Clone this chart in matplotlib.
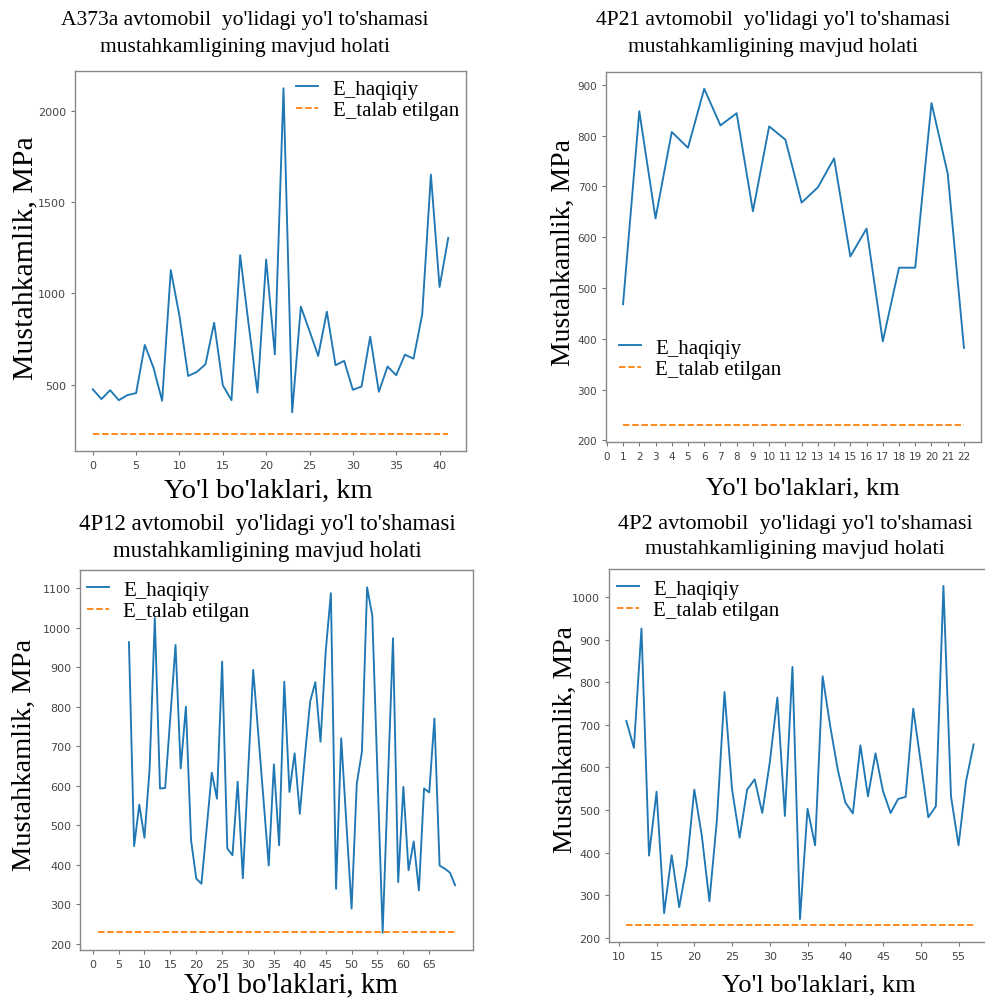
import matplotlib
matplotlib.use('Agg')
import matplotlib.pyplot as plt
from matplotlib.ticker import FixedLocator, MultipleLocator

# required modulus (same for every road)
E_TALAB = 230

# A373a road, km 0..41
km_a373a = list(range(0, 42))
e_a373a = [474, 420, 469, 414, 442, 453, 717, 593, 411, 1128, 876, 547, 569, 611,
           839, 496, 414, 1210, 821, 456, 1186, 666, 2126, 347, 927, 794, 657, 900,
           606, 630, 471, 489, 763, 460, 599, 551, 664, 642, 885, 1652, 1035, 1305]
ticks_a373a = list(range(0, 41, 5))

# 4P21 road, km 1..22
km_4p21 = list(range(1, 23))
e_4p21 = [468, 848, 637, 807, 776, 892, 820, 844, 651, 818, 792, 668, 698, 755,
          562, 617, 395, 540, 540, 864, 725, 382]
ticks_4p21 = list(range(0, 23))

# 4P12 road, measured km 7..70, required line drawn from km 1
km_4p12_req = list(range(1, 71))
km_4p12 = list(range(7, 71))
e_4p12 = [963, 447, 552, 468, 644, 1024, 593, 594, 775, 956, 644, 800, 462, 365,
          352, 490, 633, 567, 914, 441, 424, 610, 366, 630, 893, 728, 563, 398,
          654, 449, 863, 584, 682, 529, 677, 813, 862, 711, 939, 1087, 339, 720,
          504, 289, 605, 686, 1102, 1030, 630, 228, 603, 973, 356, 597, 386, 459,
          335, 593, 583, 770, 398, 390, 380, 348]
ticks_4p12 = list(range(0, 70, 5))

# 4P2 road, km 11..57
km_4p2 = list(range(11, 58))
e_4p2 = [709, 646, 926, 393, 543, 258, 394, 272, 370, 548, 439, 286, 478, 777,
         548, 435, 548, 572, 493, 612, 764, 486, 836, 244, 503, 417, 814, 697,
         595, 518, 492, 652, 532, 633, 544, 493, 526, 531, 738, 611, 483, 509,
         1026, 532, 417, 568, 654]
ticks_4p2 = list(range(10, 60, 5))

W, H = 985, 1003
SERIF = 'Liberation Serif'

fig = plt.figure(figsize=(W / 100, H / 100), dpi=100)


def box(x0, x1, y0, y1):
    # pixel box (top-down) -> figure fraction
    return [x0 / W, 1 - y1 / H, (x1 - x0) / W, (y1 - y0) / H]


def fxy(x, y):
    return x / W, 1 - y / H


def panel(rect, km, e, km_req, name, xticks, ystep, tick_size, lay):
    ax = fig.add_axes(rect)
    ax.plot(km, e, color='#1f77b4', lw=1.35, label='E_haqiqiy')
    ax.plot(km_req, [E_TALAB] * len(km_req), color='#ff7f0e', lw=1.3,
            ls=(0, (3.6, 1.5)), label='E_talab etilgan')
    ax.xaxis.set_major_locator(FixedLocator(xticks))
    ax.yaxis.set_major_locator(MultipleLocator(ystep))
    ax.tick_params(labelsize=tick_size, colors='#777', labelcolor='#444',
                   length=2.8, width=0.8)
    for s in ax.spines.values():
        s.set_color('#888')
        s.set_linewidth(1.0)
    ax.legend(loc=lay['leg_loc'], bbox_to_anchor=fxy(*lay['leg_xy']),
              bbox_transform=fig.transFigure, frameon=False,
              prop={'family': SERIF, 'size': lay['leg_size']},
              handlelength=1.05, handletextpad=0.7, labelspacing=0.08,
              borderpad=0, borderaxespad=0)
    # titles / labels were put on the original screenshots, so place by hand
    tx, ty = fxy(*lay['title_xy'])
    fig.text(tx, ty, name + " avtomobil  yo'lidagi yo'l to'shamasi\n"
             "mustahkamligining mavjud holati", ha='center', va='center',
             multialignment='center', family=SERIF, size=lay['title_size'],
             linespacing=lay['title_ls'])
    lx, ly = fxy(*lay['xlab_xy'])
    fig.text(lx, ly, "Yo'l bo'laklari, km", ha='center', va='center',
             family=SERIF, size=lay['xlab_size'])
    yx, yy = fxy(*lay['ylab_xy'])
    fig.text(yx, yy, 'Mustahkamlik, MPa', ha='center', va='center',
             rotation=90, family=SERIF, size=lay['ylab_size'])
    return ax


panel(box(75, 466, 72, 452), km_a373a, e_a373a, km_a373a, 'A373a', ticks_a373a, 500, 8,
      dict(leg_loc='upper right', leg_xy=(459, 80), leg_size=15,
           title_xy=(245, 34), title_size=15.5, title_ls=1.55,
           xlab_xy=(268, 491), xlab_size=20.5,
           ylab_xy=(25, 258), ylab_size=21.5))

panel(box(606, 981, 73, 443), km_4p21, e_4p21, km_4p21, '4P21', ticks_4p21, 100, 7.5,
      dict(leg_loc='upper left', leg_xy=(619, 339), leg_size=15,
           title_xy=(773, 34), title_size=15.5, title_ls=1.55,
           xlab_xy=(803, 488), xlab_size=19,
           ylab_xy=(563, 252), ylab_size=20))

panel(box(80, 473, 571, 951), km_4p12, e_4p12, km_4p12_req, '4P12', ticks_4p12, 100, 8,
      dict(leg_loc='upper left', leg_xy=(87, 581), leg_size=15,
           title_xy=(267, 538), title_size=16.5, title_ls=1.38,
           xlab_xy=(291, 985), xlab_size=21,
           ylab_xy=(24, 755), ylab_size=20.5))

panel(box(609, 991, 570, 943), km_4p2, e_4p2, km_4p2, '4P2', ticks_4p2, 100, 8,
      dict(leg_loc='upper left', leg_xy=(617, 580), leg_size=15,
           title_xy=(795, 537), title_size=16, title_ls=1.38,
           xlab_xy=(819, 985), xlab_size=19,
           ylab_xy=(565, 740), ylab_size=20))

fig.savefig('out.png', dpi=100, facecolor='white')
